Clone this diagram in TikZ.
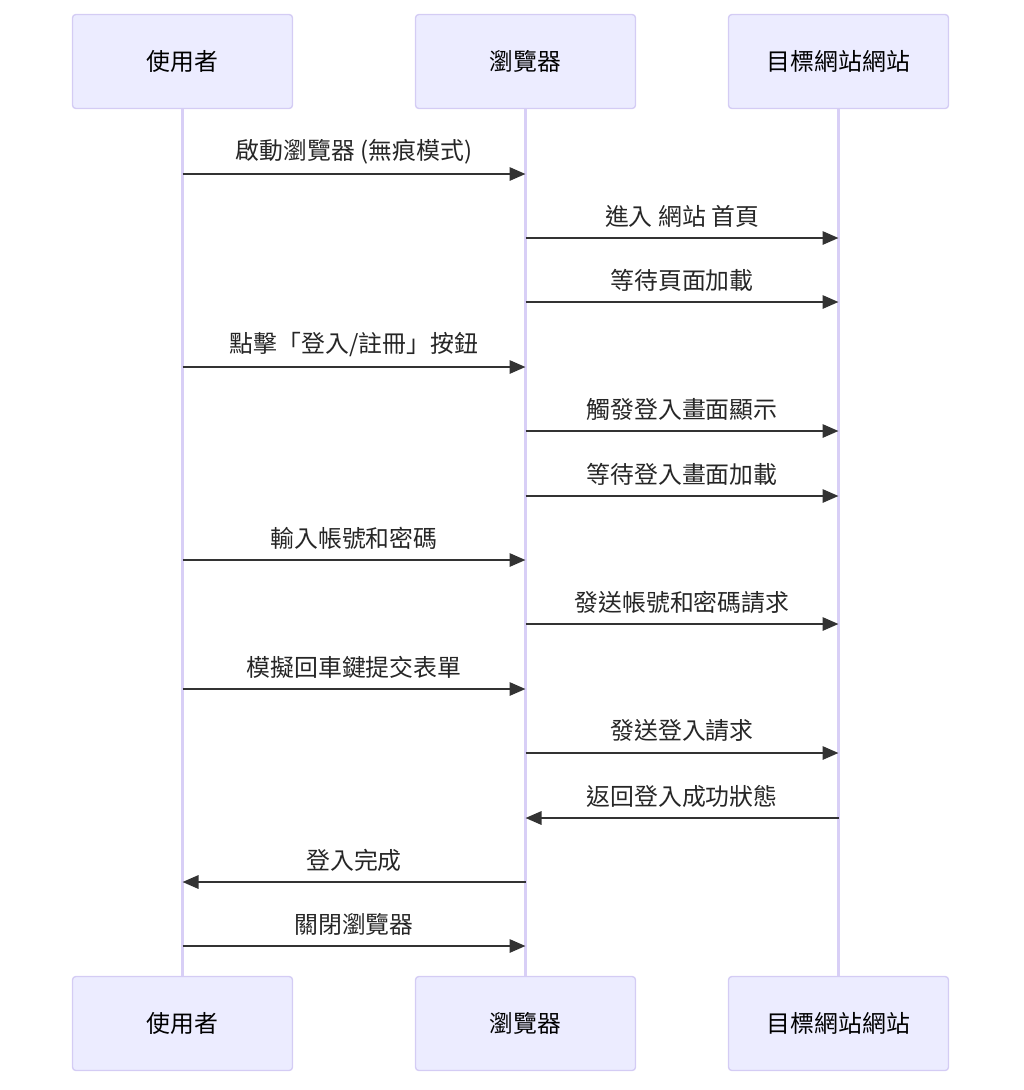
\documentclass[tikz,border=0pt]{standalone}
\usepackage{fontspec}
\setmainfont{Noto Sans CJK TC}
\usetikzlibrary{arrows.meta, positioning}
\definecolor{actorfill}{HTML}{ECECFF}
\definecolor{actorline}{HTML}{D4CCF4}
\definecolor{lifeline}{HTML}{D8CFF6}
\definecolor{msgline}{HTML}{333333}

\begin{document}
\begin{tikzpicture}[x=0.75pt, y=-0.75pt,
      actor/.style={draw=actorline, fill=actorfill, line width=1pt,
                    rounded corners=2.5pt, minimum width=165pt,
                    minimum height=70.5pt, font=\fontsize{17.9}{21}\selectfont},
      life/.style={draw=lifeline, line width=1.6pt},
      msg/.style={-{Triangle[length=12pt, width=10pt]}, draw=msgline,
                  line width=1.6pt},
      lbl/.style={font=\fontsize{17.9}{21}\selectfont, text=black!85}]
    \useasboundingbox (0,0) rectangle (1024,1090);
    % participants, top and bottom
    \node[actor] (uT) at (182.5,61.5) {使用者};
    \node[actor] (bT) at (525.5,61.5) {瀏覽器};
    \node[actor] (sT) at (838.5,61.5) {目標網站網站};
    \node[actor] (uB) at (182.5,1023.5) {使用者};
    \node[actor] (bB) at (525.5,1023.5) {瀏覽器};
    \node[actor] (sB) at (838.5,1023.5) {目標網站網站};
    \draw[life] (uT) -- (uB); \draw[life] (bT) -- (bB); \draw[life] (sT) -- (sB);
    % messages
    \foreach \y/\a/\b/\txt [count=\i] in {
        174/u/b/{啟動瀏覽器 (無痕模式)},
        238/b/s/{進入 網站 首頁},
        302/b/s/{等待頁面加載},
        367/u/b/{點擊「登入/註冊」按鈕},
        431/b/s/{觸發登入畫面顯示},
        496/b/s/{等待登入畫面加載},
        560/u/b/{輸入帳號和密碼},
        624/b/s/{發送帳號和密碼請求},
        689/u/b/{模擬回車鍵提交表單},
        753/b/s/{發送登入請求},
        818/s/b/{返回登入成功狀態},
        882/b/u/{登入完成},
        946/u/b/{關閉瀏覽器}} {
      \coordinate (m\i a) at (\a T |- 0,\y);
      \coordinate (m\i b) at (\b T |- 0,\y);
      \draw[msg] (m\i a) -- (m\i b)
        node[lbl, midway, yshift=16.5pt] (t\i) {\txt};
    }
\end{tikzpicture}
\end{document}
